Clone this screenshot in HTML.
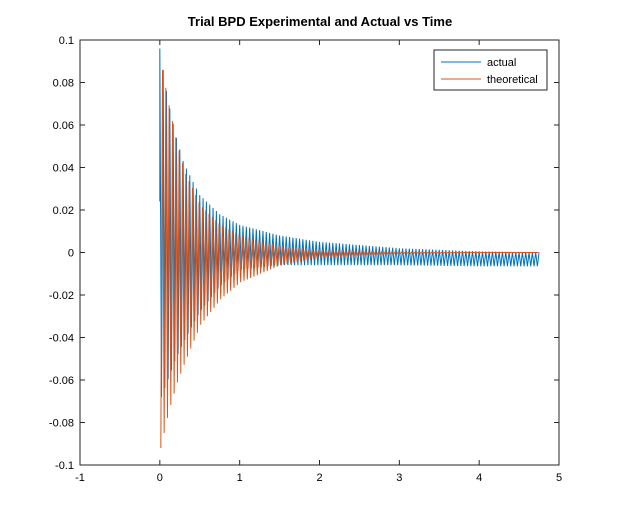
<!DOCTYPE html>
<html><head><meta charset="utf-8"><style>
html,body{margin:0;padding:0;background:#fff;}
svg{display:block;font-family:"Liberation Sans",Arial,sans-serif;}
</style></head><body>
<svg id="chart" width="619" height="523">
<rect x="0" y="0" width="619" height="523" fill="#fff"/>
<text x="320" y="26" text-anchor="middle" font-size="13" font-weight="bold" fill="#000">Trial BPD Experimental and Actual vs Time</text>
<g id="series"></g>
<g id="axes"></g>
<g>
<rect x="434" y="50" width="113" height="40" fill="#fff" stroke="#262626" stroke-width="1"/>
<line x1="441" y1="62" x2="481" y2="62" stroke="#0072BD" stroke-width="1"/>
<text x="487" y="66" font-size="11" fill="#000">actual</text>
<line x1="441" y1="79" x2="481" y2="79" stroke="#D95319" stroke-width="1"/>
<text x="487" y="83" font-size="11" fill="#000">theoretical</text>
</g>
</svg>
<script>
const xTicks = [-1, 0, 1, 2, 3, 4, 5];
const yTicks = [-0.1, -0.08, -0.06, -0.04, -0.02, 0, 0.02, 0.04, 0.06, 0.08, 0.1];
const yTickLabels = ["-0.1","-0.08","-0.06","-0.04","-0.02","0","0.02","0.04","0.06","0.08","0.1"];
const envTimes = [0, 0.1, 0.2, 0.3, 0.5, 0.75, 1, 1.5, 2, 3, 4, 4.75];
const theoUpper = [0.09, 0.07, 0.052, 0.038, 0.022, 0.013, 0.008, 0.003, 0.001, 0.0003, 0.0001, 0];
const theoLower = [-0.092, -0.075, -0.062, -0.052, -0.034, -0.022, -0.014, -0.006, -0.0025, -0.0005, -0.0001, 0];
const actualUpper = [0.096, 0.072, 0.055, 0.042, 0.027, 0.018, 0.013, 0.008, 0.005, 0.002, 0.0005, 0];
const actualLower = [-0.07, -0.06, -0.05, -0.042, -0.028, -0.016, -0.008, -0.006, -0.006, -0.006, -0.0065, -0.0065];
const oscFreq = [24];
const actualStart = [0.024];

const L=80,R=559,T=40,B=465;
const xs=v=>L+(v+1)/6*(R-L);
const ys=v=>B-(v+0.1)/0.2*(B-T);
const NS="http://www.w3.org/2000/svg";
function lerp(arr,t){
  for(let i=0;i<envTimes.length-1;i++){
    if(t<=envTimes[i+1]){const f=(t-envTimes[i])/(envTimes[i+1]-envTimes[i]);return arr[i]+f*(arr[i+1]-arr[i]);}
  }
  return arr[arr.length-1];
}
function osc(up,lo,t,c){const u=lerp(up,t),l=lerp(lo,t);return (u+l)/2+(u-l)/2*c;}
const series=document.getElementById('series');
const tEnd=envTimes[envTimes.length-1];
const f=oscFreq[0];
const step=1/(f*4);
const shift=0.3/f;
const n=Math.floor(tEnd/step);
let pa=[xs(0).toFixed(2)+","+ys(actualStart[0]).toFixed(2)],pt=[];
for(let i=0;i<=n;i++){
  const t=i*step;
  const c=Math.cos(2*Math.PI*f*t);
  pa.push(xs(t).toFixed(2)+","+ys(osc(actualUpper,actualLower,t,c)).toFixed(2));
  if(t+shift<=tEnd){
    pt.push(xs(t+shift).toFixed(2)+","+ys(osc(theoUpper,theoLower,t,-c)).toFixed(2));
  }
}
const la=document.createElementNS(NS,'polyline');
la.setAttribute('points',pa.join(' '));la.setAttribute('fill','none');la.setAttribute('stroke','#0072BD');la.setAttribute('stroke-width','1');


series.appendChild(la);
const lt=document.createElementNS(NS,'polyline');
lt.setAttribute('points',pt.join(' '));lt.setAttribute('fill','none');lt.setAttribute('stroke','#D95319');lt.setAttribute('stroke-width','1');


series.appendChild(lt);

const axes=document.getElementById('axes');
const box=document.createElementNS(NS,'rect');
box.setAttribute('x',L);box.setAttribute('y',T);box.setAttribute('width',R-L);box.setAttribute('height',B-T);
box.setAttribute('fill','none');box.setAttribute('stroke','#262626');box.setAttribute('stroke-width','1');


axes.appendChild(box);
xTicks.forEach(v=>{
  const x=xs(v);
  [[B,B-5],[T,T+5]].forEach(p=>{
    const l=document.createElementNS(NS,'line');
    l.setAttribute('x1',x);l.setAttribute('x2',x);l.setAttribute('y1',p[0]);l.setAttribute('y2',p[1]);l.setAttribute('stroke','#262626');
    
    
    axes.appendChild(l);
  });
  const tx=document.createElementNS(NS,'text');
  tx.setAttribute('x',x);tx.setAttribute('y',B+16);tx.setAttribute('text-anchor','middle');tx.setAttribute('font-size','11');tx.textContent=String(v);
  
  
  axes.appendChild(tx);
});
yTicks.forEach((v,i)=>{
  const y=ys(v);
  [[L,L+5],[R,R-5]].forEach(p=>{
    const l=document.createElementNS(NS,'line');
    l.setAttribute('y1',y);l.setAttribute('y2',y);l.setAttribute('x1',p[0]);l.setAttribute('x2',p[1]);l.setAttribute('stroke','#262626');
    
    
    axes.appendChild(l);
  });
  const tx=document.createElementNS(NS,'text');
  tx.setAttribute('x',L-6);tx.setAttribute('y',y+4);tx.setAttribute('text-anchor','end');tx.setAttribute('font-size','11');tx.textContent=yTickLabels[i];
  
  
  axes.appendChild(tx);
});
</script>
</body></html>
